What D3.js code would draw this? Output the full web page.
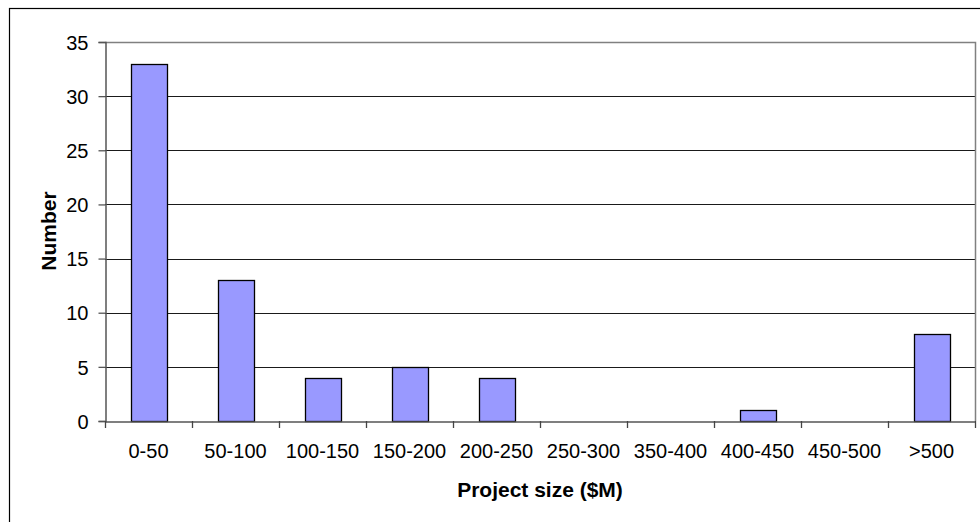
<!DOCTYPE html>
<html>
<head>
<meta charset="utf-8">
<script src="https://cdn.jsdelivr.net/npm/d3@7"></script>
<style>
  html, body { margin: 0; padding: 0; background: #fff; }
  svg { display: block; font-family: "Liberation Sans", Arial, sans-serif; }
</style>
</head>
<body>
<svg id="chart" width="980" height="522"></svg>
<script>
// Number of projects by size band
const categories = ["0-50", "50-100", "100-150", "150-200", "200-250", "250-300", "350-400", "400-450", "450-500", ">500"];
const counts = [33, 13, 4, 5, 4, 0, 0, 1, 0, 8];
const yTicks = [0, 5, 10, 15, 20, 25, 30, 35];

const svg = d3.select("#chart");
const plot = { left: 105, top: 42, right: 975, bottom: 421 };
const FONT = "Liberation Sans, Arial, sans-serif";

// outer chart frame (extends past the right and bottom edges)
svg.append("rect")
  .attr("x", 9.5).attr("y", 8.5)
  .attr("width", 1000).attr("height", 1000)
  .attr("fill", "none").attr("stroke", "#000").attr("stroke-width", 1.2);

const x = d3.scaleBand().domain(categories).range([plot.left, plot.right]).paddingInner(0).paddingOuter(0);
const y = d3.scaleLinear().domain([0, 35]).range([plot.bottom, plot.top]);

// horizontal gridlines
svg.append("g").selectAll("line")
  .data(yTicks.filter(d => d > 0 && d < 35))
  .join("line")
  .attr("x1", plot.left).attr("x2", plot.right)
  .attr("y1", d => Math.round(y(d)) + 0.5).attr("y2", d => Math.round(y(d)) + 0.5)
  .attr("stroke", "#1a1a1a").attr("stroke-width", 1);

// plot area border (top and right)
svg.append("path")
  .attr("d", `M${plot.left},${plot.top + 0.5}H${plot.right + 0.5}V${plot.bottom}`)
  .attr("fill", "none").attr("stroke", "#808080").attr("stroke-width", 1.5);

// bars
const barW = 36;
svg.append("g").selectAll("rect")
  .data(categories.map((c, i) => ({ c, v: counts[i] })).filter(d => d.v > 0))
  .join("rect")
  .attr("x", d => Math.round(x(d.c) + x.bandwidth() / 2 - barW / 2) + 0.5)
  .attr("y", d => Math.round(y(d.v)) + 0.5)
  .attr("width", barW)
  .attr("height", d => Math.round(y(0)) - Math.round(y(d.v)))
  .attr("fill", "#9999ff")
  .attr("stroke", "#000").attr("stroke-width", 1.3);

// y axis
const yAxis = svg.append("g")
  .attr("transform", `translate(${plot.left + 0.5},0)`)
  .call(d3.axisLeft(y).tickValues(yTicks).tickSize(7).tickPadding(10).tickFormat(d3.format("d")));
yAxis.select(".domain").attr("stroke", "#555").attr("stroke-width", 1.5);
yAxis.selectAll(".tick line").attr("stroke", "#555").attr("stroke-width", 1.3);
yAxis.selectAll("text").attr("font-size", 20).attr("fill", "#000")
  .attr("font-family", FONT).attr("dy", "0.36em");

// x axis
const xAxis = svg.append("g")
  .attr("transform", `translate(0,${plot.bottom + 0.5})`)
  .call(d3.axisBottom(x).tickSize(0).tickPadding(22));
xAxis.select(".domain").attr("stroke", "#555").attr("stroke-width", 1.5);
xAxis.selectAll("text").attr("font-size", 20).attr("fill", "#000")
  .attr("font-family", FONT);

// category divider ticks
const bounds = categories.map(c => x(c)).concat([plot.right]);
svg.append("g").selectAll("line")
  .data(bounds)
  .join("line")
  .attr("x1", d => Math.round(d) + 0.5).attr("x2", d => Math.round(d) + 0.5)
  .attr("y1", plot.bottom).attr("y2", plot.bottom + 7)
  .attr("stroke", "#444").attr("stroke-width", 1.3);

// axis titles
svg.append("text")
  .attr("x", 540).attr("y", 497)
  .attr("text-anchor", "middle")
  .attr("font-family", FONT)
  .attr("font-size", 21).attr("font-weight", "bold")
  .text("Project size ($M)");

svg.append("text")
  .attr("transform", "translate(56,231) rotate(-90)")
  .attr("text-anchor", "middle")
  .attr("font-family", FONT)
  .attr("font-size", 21).attr("font-weight", "bold")
  .text("Number");
</script>
</body>
</html>
